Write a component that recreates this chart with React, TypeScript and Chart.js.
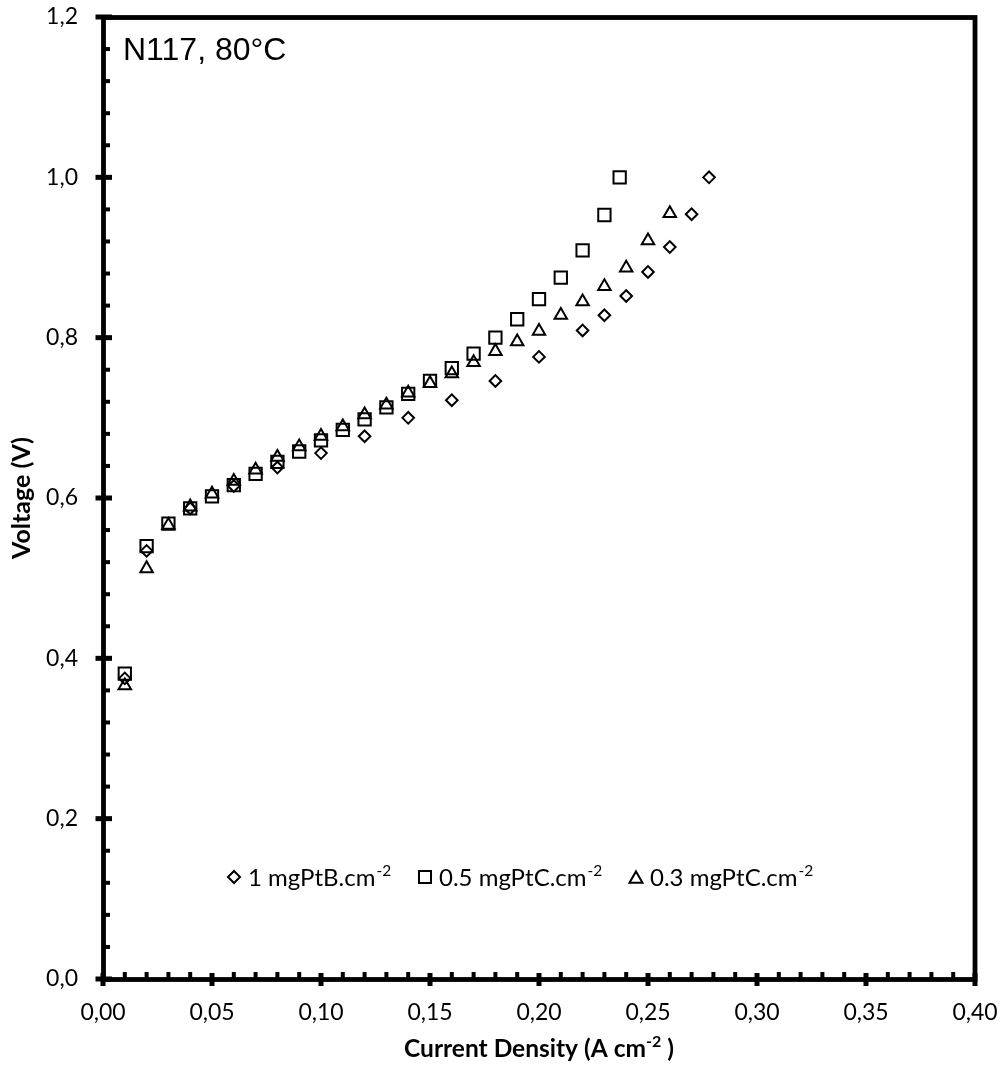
import React, { useEffect, useRef } from 'react';
import { Chart, registerables } from 'chart.js';

Chart.register(...registerables);

// ---- data ----
const seriesNames = ['1 mgPtB.cm', '0.5 mgPtC.cm', '0.3 mgPtC.cm'];
const seriesSup = '-2';

const xPtB = [0.01, 0.02, 0.04, 0.06, 0.08, 0.10, 0.12, 0.14, 0.16, 0.18, 0.20, 0.22, 0.23, 0.24, 0.25, 0.26, 0.27, 0.278];
const yPtB = [0.375, 0.534, 0.587, 0.615, 0.638, 0.656, 0.677, 0.700, 0.722, 0.746, 0.776, 0.809, 0.828, 0.852, 0.882, 0.913, 0.954, 1.0];

const xPtC05 = [0.01, 0.02, 0.03, 0.04, 0.05, 0.06, 0.07, 0.08, 0.09, 0.10, 0.11, 0.12, 0.13, 0.14, 0.15, 0.16, 0.17, 0.18, 0.19, 0.20, 0.21, 0.22, 0.23, 0.237];
const yPtC05 = [0.381, 0.540, 0.568, 0.587, 0.602, 0.616, 0.630, 0.645, 0.658, 0.672, 0.685, 0.698, 0.713, 0.730, 0.746, 0.762, 0.780, 0.800, 0.823, 0.848, 0.875, 0.909, 0.953, 1.0];

const xPtC03 = [0.01, 0.02, 0.03, 0.04, 0.05, 0.06, 0.07, 0.08, 0.09, 0.10, 0.11, 0.12, 0.13, 0.14, 0.15, 0.16, 0.17, 0.18, 0.19, 0.20, 0.21, 0.22, 0.23, 0.24, 0.25, 0.26];
const yPtC03 = [0.366, 0.512, 0.566, 0.589, 0.605, 0.621, 0.635, 0.651, 0.664, 0.677, 0.689, 0.704, 0.716, 0.731, 0.743, 0.755, 0.769, 0.783, 0.795, 0.808, 0.828, 0.845, 0.864, 0.887, 0.921, 0.955];

const xAxisTitle = 'Current Density (A cm';
const xAxisTitleSup = '-2';
const xAxisTitleEnd = ' )';
const yAxisTitle = 'Voltage (V)';
const annotation = 'N117, 80°C';

const X_MIN = 0, X_MAX = 0.4, X_MAJOR = 0.05, X_MINOR = 0.01;
const Y_MIN = 0, Y_MAX = 1.2, Y_MAJOR = 0.2, Y_MINOR = 0.04;

const toPts = (xs: number[], ys: number[]) => xs.map((x, i) => ({ x, y: ys[i] }));

const FONT = 'Lato, "Open Sans", sans-serif';

const decorPlugin = {
  id: 'decor',
  afterDraw(chart: any) {
    const { ctx, chartArea, scales } = chart;
    const { left, right, top, bottom } = chartArea;
    const xs = scales.x;
    const ys = scales.y;
    ctx.save();
    ctx.strokeStyle = '#000';
    ctx.fillStyle = '#000';
    ctx.lineCap = 'butt';

    // frame
    ctx.lineWidth = 4.8;
    ctx.strokeRect(left + 0.5, top + 0.5, right - left - 0.5, bottom - top);

    // x ticks
    const nx = Math.round((X_MAX - X_MIN) / X_MINOR);
    const majEvery = Math.round(X_MAJOR / X_MINOR);
    for (let i = 0; i <= nx; i++) {
      const px = xs.getPixelForValue(X_MIN + i * X_MINOR);
      ctx.beginPath();
      if (i % majEvery === 0) {
        ctx.lineWidth = 5;
        ctx.moveTo(px, bottom - 6);
        ctx.lineTo(px, bottom + 7);
      } else {
        ctx.lineWidth = 4;
        ctx.moveTo(px, bottom - 7);
        ctx.lineTo(px, bottom);
      }
      ctx.stroke();
    }
    // y ticks
    const ny = Math.round((Y_MAX - Y_MIN) / Y_MINOR);
    const majEveryY = Math.round(Y_MAJOR / Y_MINOR);
    for (let i = 0; i <= ny; i++) {
      const py = ys.getPixelForValue(Y_MIN + i * Y_MINOR);
      ctx.beginPath();
      if (i % majEveryY === 0) {
        ctx.lineWidth = 5;
        ctx.moveTo(left - 7.5, py);
        ctx.lineTo(left + 9, py);
      } else {
        ctx.lineWidth = 4;
        ctx.moveTo(left, py);
        ctx.lineTo(left + 7, py);
      }
      ctx.stroke();
    }

    // annotation
    ctx.font = '32px "Liberation Sans", Arial, sans-serif';
    ctx.textAlign = 'left';
    ctx.textBaseline = 'alphabetic';
    ctx.fillText(annotation, left + 20, top + 43);

    // y axis title
    ctx.save();
    ctx.font = `bold 25px ${FONT}`;
    ctx.translate(22, (top + bottom) / 2);
    ctx.rotate(-Math.PI / 2);
    ctx.textAlign = 'center';
    ctx.textBaseline = 'middle';
    ctx.fillText(yAxisTitle, 0, 0);
    ctx.restore();

    // x axis title with superscript
    const tf = 24.5;
    ctx.font = `bold ${tf}px ${FONT}`;
    const w1 = ctx.measureText(xAxisTitle).width;
    const w3 = ctx.measureText(xAxisTitleEnd).width;
    ctx.font = `bold 16px ${FONT}`;
    const w2 = ctx.measureText(xAxisTitleSup).width;
    const total = w1 + w2 + w3;
    let cx = (left + right) / 2 - total / 2;
    const base = 1057;
    ctx.textAlign = 'left';
    ctx.textBaseline = 'alphabetic';
    ctx.font = `bold ${tf}px ${FONT}`;
    ctx.fillText(xAxisTitle, cx, base);
    cx += w1;
    ctx.font = `bold 16px ${FONT}`;
    ctx.fillText(xAxisTitleSup, cx, base - 10);
    cx += w2;
    ctx.font = `bold ${tf}px ${FONT}`;
    ctx.fillText(xAxisTitleEnd, cx, base);

    // legend
    const styles = ['rectRot', 'rect', 'triangle'];
    const radii = [6, 8.5, 7.5];
    const lx = [234, 425, 636];
    const ly = 877;
    const lbase = 886;
    chart.data.datasets.forEach((ds: any, i: number) => {
      ctx.save();
      ctx.lineWidth = 2;
      ctx.strokeStyle = '#000';
      const r = radii[i];
      const mx = lx[i];
      ctx.beginPath();
      if (styles[i] === 'rectRot') {
        ctx.moveTo(mx, ly - r); ctx.lineTo(mx + r, ly); ctx.lineTo(mx, ly + r); ctx.lineTo(mx - r, ly); ctx.closePath();
      } else if (styles[i] === 'rect') {
        const s = r * Math.SQRT1_2;
        ctx.rect(mx - s, ly - s, 2 * s, 2 * s);
      } else {
        const cy = ly + r * 0.25;
        ctx.moveTo(mx, cy - r); ctx.lineTo(mx + r * 0.866, cy + r * 0.5); ctx.lineTo(mx - r * 0.866, cy + r * 0.5); ctx.closePath();
      }
      ctx.stroke();
      ctx.restore();
      ctx.font = `24px ${FONT}`;
      ctx.textAlign = 'left';
      ctx.textBaseline = 'alphabetic';
      const tx = mx + 14;
      ctx.fillText(seriesNames[i], tx, lbase);
      const tw = ctx.measureText(seriesNames[i]).width;
      ctx.font = `15.5px ${FONT}`;
      ctx.fillText(seriesSup, tx + tw + 1, lbase - 10);
    });
    ctx.restore();
  },
};

const zeroPad = (s: any) => {
  s.paddingLeft = 0;
  s.paddingRight = 0;
  s.paddingTop = 0;
  s.paddingBottom = 0;
};

export default function App() {
  const ref = useRef<HTMLCanvasElement | null>(null);
  useEffect(() => {
    document.body.style.margin = '0';
    if (!ref.current) return;
    const common = {
      showLine: false,
      borderColor: '#000',
      backgroundColor: 'rgba(0,0,0,0)',
      pointBorderColor: '#000',
      pointBackgroundColor: 'rgba(0,0,0,0)',
      pointBorderWidth: 2,
    };
    const chart = new Chart(ref.current, {
      type: 'scatter',
      data: {
        datasets: [
          { ...common, label: seriesNames[0] + seriesSup, data: toPts(xPtB, yPtB), pointStyle: 'rectRot', pointRadius: 5.8, pointHoverRadius: 5.8 },
          { ...common, label: seriesNames[1] + seriesSup, data: toPts(xPtC05, yPtC05), pointStyle: 'rect', pointRadius: 8.7, pointHoverRadius: 8.7 },
          { ...common, label: seriesNames[2] + seriesSup, data: toPts(xPtC03, yPtC03), pointStyle: 'triangle', pointRadius: 7.2, pointHoverRadius: 7.2 },
        ],
      },
      options: {
        responsive: false,
        animation: false,
        devicePixelRatio: 1,
        layout: { padding: { top: 17, right: 27, left: 0, bottom: 0 } },
        plugins: { legend: { display: false }, tooltip: { enabled: false } },
        scales: {
          x: {
            type: 'linear',
            min: X_MIN,
            max: X_MAX,
            afterFit: (s: any) => { s.height = 86; zeroPad(s); },
            grid: { display: false, drawTicks: false },
            border: { display: false },
            ticks: {
              stepSize: X_MAJOR,
              padding: 20,
              color: '#000',
              font: { family: FONT, size: 23 },
              callback: (v: any) => Number(v).toFixed(2).replace('.', ','),
            },
          },
          y: {
            type: 'linear',
            min: Y_MIN,
            max: Y_MAX,
            afterFit: (s: any) => { s.width = 103; zeroPad(s); },
            grid: { display: false, drawTicks: false },
            border: { display: false },
            ticks: {
              stepSize: Y_MAJOR,
              padding: 25,
              color: '#000',
              font: { family: FONT, size: 23 },
              callback: (v: any) => Number(v).toFixed(1).replace('.', ','),
            },
          },
        },
      },
      plugins: [decorPlugin],
    } as any);
    return () => chart.destroy();
  }, []);
  return (
    <div style={{ width: 1002, height: 1065, background: '#fff' }}>
      <canvas ref={ref} width={1002} height={1065} style={{ display: 'block' }} />
    </div>
  );
}
